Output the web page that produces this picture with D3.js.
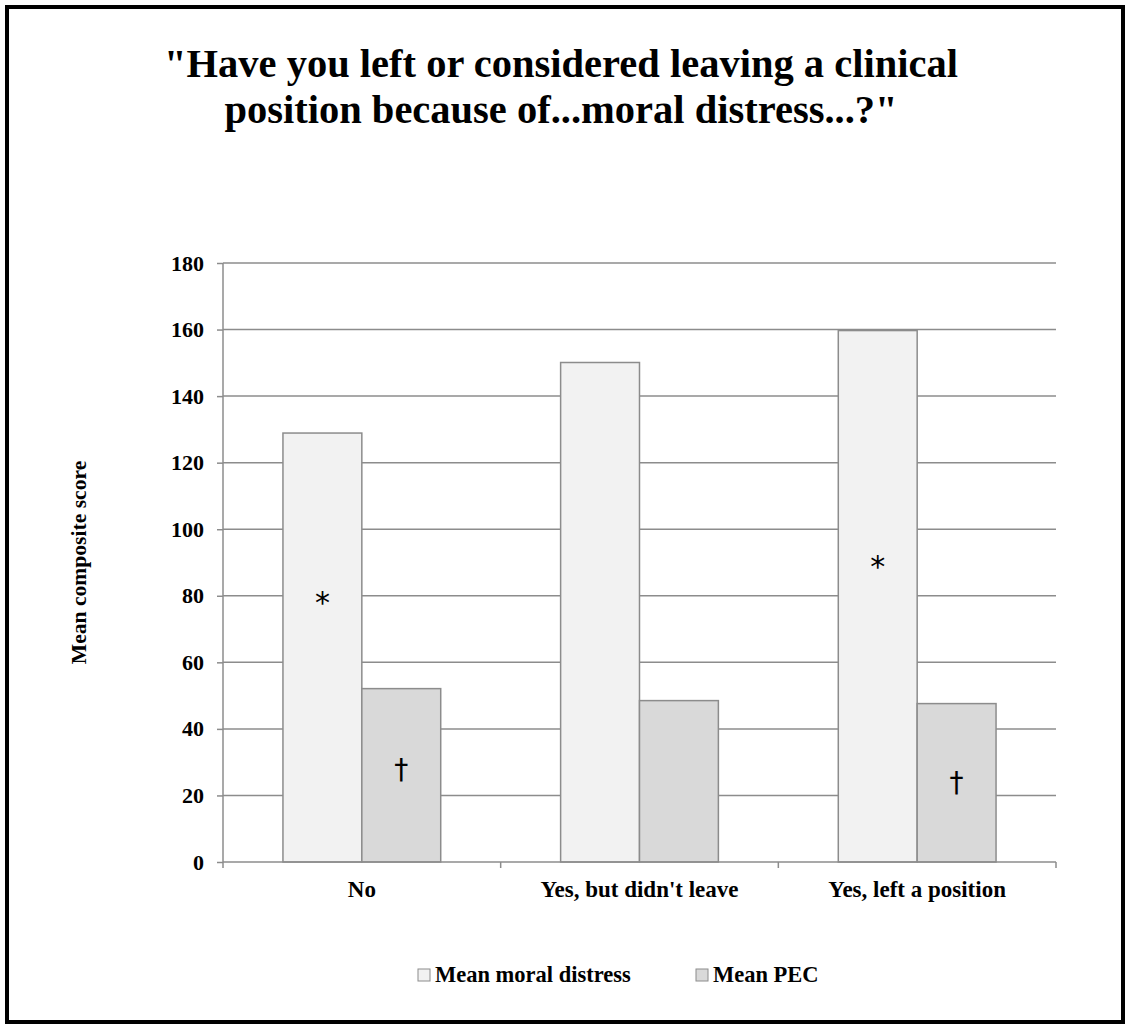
<!DOCTYPE html>
<html>
<head>
<meta charset="utf-8">
<script src="https://cdn.jsdelivr.net/npm/d3@7"></script>
<style>
  body { margin: 0; background: #fff; }
  svg text { font-family: "Liberation Serif", "Times New Roman", serif; }
</style>
</head>
<body>
<div id="chart"></div>
<script>
const categories = ['No', "Yes, but didn't leave", 'Yes, left a position'];
const seriesNames = ['Mean moral distress', 'Mean PEC'];
const moralDistress = [128.9, 150.1, 159.7];
const meanPEC = [52.1, 48.5, 47.6];
const yTicks = [0, 20, 40, 60, 80, 100, 120, 140, 160, 180];
// marcadors de significació (categoria, sèrie, valor on es col·loca)
const markers = [
    { cat: 'No', series: 0, symbol: '*', at: 81.5 },
    { cat: 'No', series: 1, symbol: '†', at: 28 },
    { cat: 'Yes, left a position', series: 0, symbol: '*', at: 92.5 },
    { cat: 'Yes, left a position', series: 1, symbol: '†', at: 24 }
];

const W = 1126, H = 1024;
const fills = ['#f2f2f2', '#d9d9d9'];
const gridColor = '#8c8c8c';

const svg = d3.select('#chart').append('svg')
    .attr('width', W)
    .attr('height', H);

// Marc exterior
svg.append('rect')
    .attr('x', 7).attr('y', 7)
    .attr('width', W - 10).attr('height', H - 9)
    .attr('fill', '#fff')
    .attr('stroke', '#000')
    .attr('stroke-width', 4);

// Títol
const title = svg.append('text')
    .attr('text-anchor', 'middle')
    .attr('font-size', '40.5px')
    .attr('font-weight', 'bold')
    .attr('fill', '#000');
title.append('tspan').attr('x', 561).attr('y', 77).text('"Have you left or considered leaving a clinical');
title.append('tspan').attr('x', 561).attr('y', 123).text('position because of...moral distress...?"');

const margin = { left: 223, right: 1056, top: 263, bottom: 862 };

const x0 = d3.scaleBand()
    .domain(categories)
    .range([margin.left, margin.right]);

const x1 = d3.scaleBand()
    .domain([0, 1])
    .range([0, x0.bandwidth()])
    .paddingOuter(0.76)
    .paddingInner(0);

const y = d3.scaleLinear()
    .domain([0, 180])
    .range([margin.bottom, margin.top]);

// Línies de graella
svg.append('g')
    .selectAll('line')
    .data(yTicks.filter(d => d > 0))
    .join('line')
    .attr('x1', margin.left)
    .attr('x2', margin.right)
    .attr('y1', d => y(d))
    .attr('y2', d => y(d))
    .attr('stroke', gridColor)
    .attr('stroke-width', 1.5);

// Eix Y
const yAxis = svg.append('g')
    .attr('transform', `translate(${margin.left},0)`)
    .call(d3.axisLeft(y).tickValues(yTicks).tickSize(6).tickPadding(13));
yAxis.select('.domain').attr('stroke', gridColor).attr('stroke-width', 1.5)
    .attr('d', `M0,${margin.top}V${margin.bottom}`);
yAxis.selectAll('.tick line').attr('stroke', gridColor).attr('stroke-width', 1.5);
yAxis.selectAll('.tick text')
    .attr('font-size', '22px')
    .attr('font-weight', 'bold')
    .attr('fill', '#000');

// Barres
const data = categories.map((c, i) => ({ cat: c, values: [moralDistress[i], meanPEC[i]] }));

const groups = svg.append('g')
    .selectAll('g')
    .data(data)
    .join('g')
    .attr('transform', d => `translate(${x0(d.cat)},0)`);

groups.selectAll('rect')
    .data(d => d.values.map((v, k) => ({ k, v })))
    .join('rect')
    .attr('x', d => x1(d.k))
    .attr('width', x1.bandwidth())
    .attr('y', d => y(d.v))
    .attr('height', d => y(0) - y(d.v))
    .attr('fill', d => fills[d.k])
    .attr('stroke', gridColor)
    .attr('stroke-width', 1.5);

// Eix X
const xAxis = svg.append('g')
    .attr('transform', `translate(0,${margin.bottom})`)
    .call(d3.axisBottom(x0).tickSize(0));
xAxis.select('.domain').attr('stroke', gridColor).attr('stroke-width', 1.5)
    .attr('d', `M${margin.left},0H${margin.right}`);
xAxis.selectAll('.tick text')
    .attr('y', 35)
    .attr('dy', 0)
    .attr('font-size', '23px')
    .attr('font-weight', 'bold')
    .attr('fill', '#000');
// marques de separació entre categories
svg.append('g')
    .selectAll('line')
    .data(categories.map(c => x0(c)).concat([margin.right]))
    .join('line')
    .attr('x1', d => d).attr('x2', d => d)
    .attr('y1', margin.bottom).attr('y2', margin.bottom + 6)
    .attr('stroke', gridColor)
    .attr('stroke-width', 1.5);

// Símbols de significació
svg.append('g')
    .selectAll('text')
    .data(markers)
    .join('text')
    .attr('x', d => x0(d.cat) + x1(d.series) + x1.bandwidth() / 2)
    .attr('y', d => y(d.at))
    .attr('dy', d => d.symbol === '*' ? '0.75em' : '0.35em')
    .attr('text-anchor', 'middle')
    .style('font-family', '"DejaVu Sans", sans-serif')
    .attr('font-size', d => d.symbol === '*' ? '30px' : '28px')
    .attr('fill', '#000')
    .text(d => d.symbol);

// Títol eix Y
svg.append('text')
    .attr('transform', `translate(86,${(margin.top + margin.bottom) / 2}) rotate(-90)`)
    .attr('text-anchor', 'middle')
    .attr('font-size', '21.6px')
    .attr('font-weight', 'bold')
    .attr('fill', '#000')
    .text('Mean composite score');

// Llegenda
const legendX = [418, 696];
const legend = svg.append('g')
    .selectAll('g')
    .data(seriesNames)
    .join('g')
    .attr('transform', (d, i) => `translate(${legendX[i]},982)`);

legend.append('rect')
    .attr('x', 0).attr('y', -13)
    .attr('width', 12).attr('height', 12)
    .attr('fill', (d, i) => fills[i])
    .attr('stroke', gridColor)
    .attr('stroke-width', 1);

legend.append('text')
    .attr('x', 17)
    .attr('y', 0)
    .attr('font-size', '22.5px')
    .attr('font-weight', 'bold')
    .attr('fill', '#000')
    .text(d => d);
</script>
</body>
</html>
